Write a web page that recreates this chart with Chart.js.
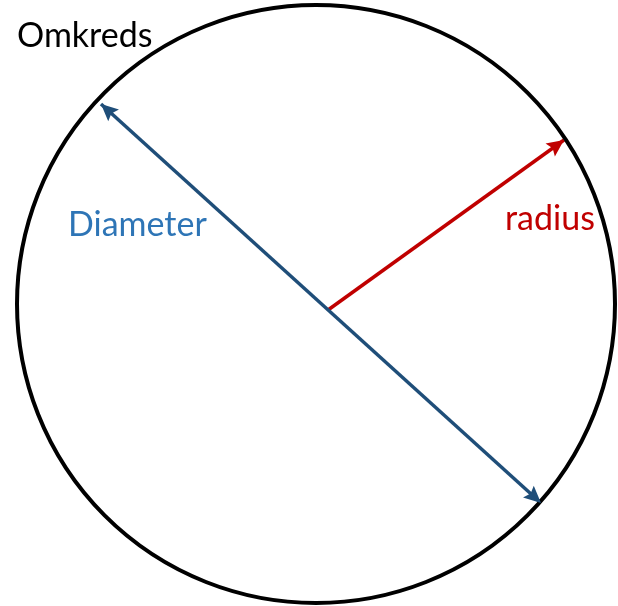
<!DOCTYPE html>
<html>
<head>
<meta charset="utf-8">
<script src="https://cdn.jsdelivr.net/npm/chart.js@4.4.1/dist/chart.umd.min.js"></script>
<style>
  html, body { margin: 0; padding: 0; background: #fff; }
  #wrap { width: 618px; height: 606px; position: relative; }
</style>
</head>
<body>
<div id="wrap"><canvas id="circleChart"></canvas></div>
<script>
// diagram values, in plot units (1 unit = 1 px on a 618 x 606 area)
const circleCenter = { x: 316, y: 304 };
const circleRadius = 299;

const diameterX = [101, 541];
const diameterY = [104, 503];

const radiusX = [328, 564];
const radiusY = [310, 140];

const labelTexts = ['Omkreds', 'Diameter', 'radius'];
const labelX = [17, 68, 505];
const labelY = [47, 236, 230];
const labelColors = ['#000000', '#2E75B6', '#C00000'];

const toPoints = (xs, ys) => xs.map((x, i) => ({ x: x, y: ys[i] }));

// draws arrow heads on the line ends + the text labels
const diagramPlugin = {
  id: 'diagram',
  afterDatasetsDraw(chart) {
    const ctx = chart.ctx;
    chart.data.datasets.forEach((ds, i) => {
      if (!ds.arrowBoth && !ds.arrowEnd) return;
      const pts = chart.getDatasetMeta(i).data;
      if (pts.length < 2) return;
      const a = pts[0], b = pts[pts.length - 1];
      const head = (from, to) => {
        const ang = Math.atan2(to.y - from.y, to.x - from.x);
        const len = 17, wid = 8;
        ctx.save();
        ctx.translate(to.x, to.y);
        ctx.rotate(ang);
        ctx.beginPath();
        ctx.moveTo(0, 0);
        ctx.lineTo(-len, -wid);
        ctx.lineTo(-len + 3, 0);
        ctx.lineTo(-len, wid);
        ctx.closePath();
        ctx.fillStyle = ds.borderColor;
        ctx.fill();
        ctx.restore();
      };
      head(a, b);
      if (ds.arrowBoth) head(b, a);
    });

    const xs = chart.scales.x, ys = chart.scales.y;
    ctx.save();
    ctx.font = '34px Lato, "Open Sans", sans-serif';
    ctx.textBaseline = 'alphabetic';
    ctx.textAlign = 'left';
    labelTexts.forEach((t, i) => {
      ctx.fillStyle = labelColors[i];
      ctx.fillText(t, xs.getPixelForValue(labelX[i]), ys.getPixelForValue(labelY[i]));
    });
    ctx.restore();
  }
};

new Chart(document.getElementById('circleChart'), {
  type: 'scatter',
  data: {
    datasets: [
      {
        label: 'Omkreds',
        data: [circleCenter],
        pointStyle: 'circle',
        pointRadius: circleRadius,
        pointHoverRadius: circleRadius,
        borderColor: '#000000',
        backgroundColor: 'rgba(0,0,0,0)',
        borderWidth: 4
      },
      {
        label: 'Diameter',
        data: toPoints(diameterX, diameterY),
        showLine: true,
        borderColor: '#1F4E79',
        borderWidth: 3.5,
        pointRadius: 0,
        arrowBoth: true
      },
      {
        label: 'radius',
        data: toPoints(radiusX, radiusY),
        showLine: true,
        borderColor: '#C00000',
        borderWidth: 3.5,
        pointRadius: 0,
        arrowEnd: true
      }
    ]
  },
  options: {
    responsive: true,
    maintainAspectRatio: false,
    animation: false,
    layout: { padding: 0, autoPadding: false },
    plugins: {
      legend: { display: false },
      tooltip: { enabled: false }
    },
    events: [],
    scales: {
      x: { type: 'linear', min: 0, max: 618, display: false },
      y: { type: 'linear', min: 0, max: 606, reverse: true, display: false }
    }
  },
  plugins: [diagramPlugin]
});
</script>
</body>
</html>
